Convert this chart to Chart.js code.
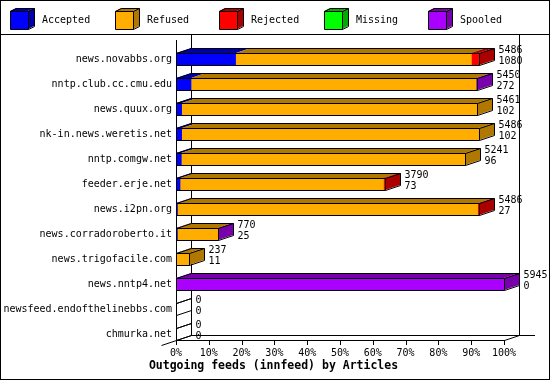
<!DOCTYPE html>
<html>
<head>
<meta charset="utf-8">
<script src="https://cdn.jsdelivr.net/npm/chart.js@4.4.1/dist/chart.umd.min.js"></script>
<style>
html,body{margin:0;padding:0;background:#fff;}
#wrap{width:550px;height:380px;position:relative;}
</style>
</head>
<body>
<div id="wrap"><canvas id="feeds-chart" width="550" height="380"></canvas></div>
<script>
/* ── data (articles per outgoing feed) ── */
var servers = ['news.novabbs.org','nntp.club.cc.cmu.edu','news.quux.org','nk-in.news.weretis.net',
  'nntp.comgw.net','feeder.erje.net','news.i2pn.org','news.corradoroberto.it',
  'news.trigofacile.com','news.nntp4.net','newsfeed.endofthelinebbs.com','chmurka.net'];
var offered  = [5486,5450,5461,5486,5241,3790,5486,770,237,5945,0,0];
var accepted = [1080,272,102,102,96,73,27,25,11,0,0,0];
var refused  = [4274,5163,5359,5384,5145,3687,5439,740,226,0,0,0];
var rejected = [132,0,0,0,0,30,20,0,0,0,0,0];
var missing  = [0,0,0,0,0,0,0,0,0,0,0,0];
var spooled  = [0,15,0,0,0,0,0,5,0,5945,0,0];
var seriesNames = ['Accepted','Refused','Rejected','Missing','Spooled'];
var pctTicks = [0,10,20,30,40,50,60,70,80,90,100];
var chartTitle = 'Outgoing feeds (innfeed) by Articles';

var faceColors  = ['#0000ff','#ffae00','#ff0000','#00ff00','#aa00ff'];
var shadeColors = ['#0000aa','#b07800','#aa0000','#00aa00','#7700aa'];
var MONO = '"DejaVu Sans Mono", monospace';
var DX = 15, DY = 5;

var maxOffered = Math.max.apply(null, offered);
function toPct(arr){ return arr.map(function(v){ return v / maxOffered * 100; }); }
var seriesData = [accepted, refused, rejected, missing, spooled];

/* ── 3D frame, faces, labels ── */
var box3d = {
  id:'box3d',
  beforeDatasetsDraw:function(chart){
    var ctx = chart.ctx, xs = chart.scales.x, ys = chart.scales.y;
    var x0 = Math.round(xs.getPixelForValue(0)), x1 = Math.round(xs.getPixelForValue(100));
    var floor = Math.round(ys.getPixelForValue(servers.length-1)) + 6;
    ctx.save();
    ctx.strokeStyle = '#000'; ctx.lineWidth = 1;
    ctx.beginPath();
    // back wall edges
    ctx.moveTo(x0+DX+0.5, 35); ctx.lineTo(x0+DX+0.5, floor-DY);
    ctx.moveTo(x1+DX+0.5, 35); ctx.lineTo(x1+DX+0.5, floor-DY);
    // front axis
    ctx.moveTo(x0+0.5, 40); ctx.lineTo(x0+0.5, floor);
    // floor
    ctx.moveTo(x0, floor+0.5); ctx.lineTo(x1+1, floor+0.5);
    ctx.moveTo(x0+DX, floor-DY+0.5); ctx.lineTo(x1+DX+16, floor-DY+0.5);
    ctx.moveTo(x1+0.5, floor+0.5); ctx.lineTo(x1+DX+0.5, floor-DY+0.5);
    ctx.moveTo(x0-DX+0.5, floor+DY+0.5); ctx.lineTo(x0+DX+0.5, floor-DY+0.5);
    // tick marks
    pctTicks.forEach(function(t){
      var px = Math.round(xs.getPixelForValue(t)) + 0.5;
      ctx.moveTo(px, floor); ctx.lineTo(px, floor+5);
    });
    ctx.stroke();
    ctx.restore();
  },
  afterDatasetsDraw:function(chart){
    var ctx = chart.ctx, xs = chart.scales.x, ys = chart.scales.y;
    var x0 = Math.round(xs.getPixelForValue(0));
    ctx.save();
    ctx.lineWidth = 1;
    servers.forEach(function(name, i){
      var cy = Math.round(ys.getPixelForValue(i));
      var top = cy - 6, bot = cy + 6;
      var xEnd = x0, last = -1;
      seriesData.forEach(function(arr, k){
        if(arr[i] <= 0) return;
        var el = chart.getDatasetMeta(k).data[i];
        var a = Math.round(el.base), b = Math.round(el.x);
        ctx.fillStyle = shadeColors[k];
        ctx.beginPath();
        ctx.moveTo(a, top); ctx.lineTo(b, top);
        ctx.lineTo(b+DX, top-DY); ctx.lineTo(a+DX, top-DY);
        ctx.closePath(); ctx.fill();
        xEnd = b; last = k;
      });
      // side face
      if(last >= 0){
        ctx.fillStyle = shadeColors[last];
        ctx.beginPath();
        ctx.moveTo(xEnd, top); ctx.lineTo(xEnd+DX, top-DY);
        ctx.lineTo(xEnd+DX, bot-DY); ctx.lineTo(xEnd, bot);
        ctx.closePath(); ctx.fill();
      }
      // outlines
      ctx.strokeStyle = '#000';
      ctx.beginPath();
      ctx.rect(x0+0.5, top+0.5, xEnd-x0, bot-top);
      ctx.moveTo(x0+0.5, top+0.5); ctx.lineTo(x0+DX+0.5, top-DY+0.5);
      ctx.lineTo(xEnd+DX+0.5, top-DY+0.5); ctx.lineTo(xEnd+0.5, top+0.5);
      ctx.moveTo(xEnd+DX+0.5, top-DY+0.5); ctx.lineTo(xEnd+DX+0.5, bot-DY+0.5);
      ctx.lineTo(xEnd+0.5, bot+0.5);
      ctx.stroke();
      // value labels
      ctx.fillStyle = '#000';
      ctx.font = '10px ' + MONO;
      ctx.textAlign = 'left'; ctx.textBaseline = 'middle';
      ctx.fillText(String(offered[i]), xEnd+DX+4.5, cy-9);
      ctx.fillText(String(accepted[i]), xEnd+DX+4.5, cy+2);
    });
    ctx.restore();
  },
  afterDraw:function(chart){
    var ctx = chart.ctx, W = chart.width, H = chart.height;
    ctx.save();
    ctx.strokeStyle = '#000'; ctx.lineWidth = 1;
    ctx.strokeRect(0.5, 0.5, W-1, H-1);
    ctx.beginPath(); ctx.moveTo(0, 34.5); ctx.lineTo(W, 34.5); ctx.stroke();
    // legend cubes
    seriesNames.forEach(function(lbl, k){
      var x = 10 + Math.round(k*104.5), y = 11, s = 18, d = 6, e = 3;
      ctx.fillStyle = faceColors[k];
      ctx.fillRect(x, y, s, s);
      ctx.fillStyle = shadeColors[k];
      ctx.beginPath();
      ctx.moveTo(x, y); ctx.lineTo(x+s, y); ctx.lineTo(x+s+d, y-e); ctx.lineTo(x+d, y-e); ctx.closePath(); ctx.fill();
      ctx.beginPath();
      ctx.moveTo(x+s, y); ctx.lineTo(x+s+d, y-e); ctx.lineTo(x+s+d, y+s-e); ctx.lineTo(x+s, y+s); ctx.closePath(); ctx.fill();
      ctx.strokeStyle = '#000';
      ctx.beginPath();
      ctx.rect(x+0.5, y+0.5, s, s);
      ctx.moveTo(x+0.5, y+0.5); ctx.lineTo(x+d+0.5, y-e+0.5); ctx.lineTo(x+s+d+0.5, y-e+0.5);
      ctx.lineTo(x+s+0.5, y+0.5);
      ctx.moveTo(x+s+d+0.5, y-e+0.5); ctx.lineTo(x+s+d+0.5, y+s-e+0.5); ctx.lineTo(x+s+0.5, y+s+0.5);
      ctx.stroke();
      ctx.fillStyle = '#000';
      ctx.font = '10px ' + MONO;
      ctx.textAlign = 'left'; ctx.textBaseline = 'middle';
      ctx.fillText(lbl, x+32, 20);
    });
    // title
    ctx.font = 'bold 11.5px ' + MONO;
    ctx.textAlign = 'center'; ctx.textBaseline = 'middle';
    ctx.fillText(chartTitle, 273.5, 366);
    ctx.restore();
  }
};

var ctx = document.getElementById('feeds-chart');
ctx._ch = new Chart(ctx, {
  type:'bar',
  data:{
    labels:servers,
    datasets:seriesData.map(function(arr, k){
      return {
        label:seriesNames[k],
        data:toPct(arr),
        backgroundColor:faceColors[k],
        borderWidth:0,
        barThickness:12
      };
    })
  },
  options:{
    indexAxis:'y',
    responsive:false,
    animation:false,
    devicePixelRatio:1,
    layout:{padding:{top:46.5,left:0,right:46,bottom:0}},
    plugins:{legend:{display:false},tooltip:{enabled:false},title:{display:false}},
    scales:{
      x:{
        stacked:true, min:0, max:100,
        grid:{display:false, drawTicks:false},
        border:{display:false},
        afterFit:function(s){ s.height = 33.5; },
        afterBuildTicks:function(s){ s.ticks = pctTicks.map(function(v){ return {value:v}; }); },
        ticks:{padding:1, maxRotation:0, autoSkip:false, color:'#000', font:{family:MONO, size:10},
          callback:function(v){ return v + '%'; }}
      },
      y:{
        stacked:true,
        grid:{display:false, drawTicks:false},
        border:{display:false},
        afterFit:function(s){ s.width = 176; },
        ticks:{padding:4, autoSkip:false, color:'#000', font:{family:MONO, size:10}}
      }
    }
  },
  plugins:[box3d]
});
</script>
</body>
</html>
